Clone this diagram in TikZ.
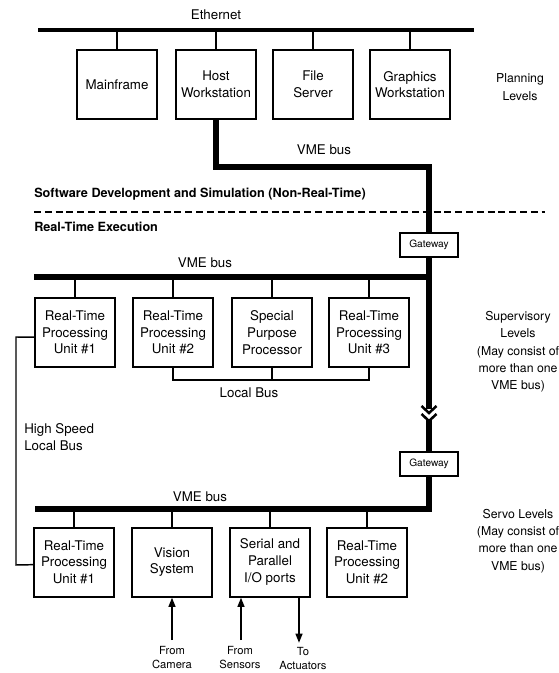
\documentclass[tikz,border=0pt]{standalone}
\usepackage{fontspec}
\setmainfont{TeX Gyre Heros}
\usetikzlibrary{arrows.meta}
\begin{document}
\begin{tikzpicture}[x=0.75pt,y=-0.75pt,
  box/.style={draw,line width=1.5pt,minimum width=60pt,minimum height=51.75pt,inner sep=0pt,align=center,font=\fontsize{10}{12.5}\selectfont},
  gw/.style={draw,line width=1.5pt,minimum width=44pt,minimum height=17.5pt,inner sep=0pt,font=\fontsize{7.6}{9}\selectfont},
  lbl/.style={font=\fontsize{10}{12.5}\selectfont,align=center,inner sep=0pt},
  side/.style={font=\fontsize{9.2}{13}\selectfont,align=center,inner sep=0pt},
  small/.style={font=\fontsize{8.4}{10.5}\selectfont,align=center,inner sep=0pt},
  head/.style={font=\fontsize{9.5}{12}\selectfont\bfseries,anchor=west,inner sep=0pt},
  ether/.style={line width=2.8pt},
  vme/.style={line width=3.8pt,line join=miter},
  drop/.style={line width=1.8pt},
  thinbus/.style={line width=1.1pt},
  chev/.style={line width=1.9pt,line join=miter},
  arr/.style={line width=1.6pt,-{Triangle[length=7pt,width=5pt]}},
]
\useasboundingbox (0,0) rectangle (559,673);

% ---------------- Planning level ----------------
\node[box] (mf)  at (117,84.5) {Mainframe};
\node[box] (hw)  at (216,84.5) {Host\\Workstation};
\node[box] (fs)  at (313,84.5) {File\\Server};
\node[box] (gws) at (410,84.5) {Graphics\\Workstation};
\coordinate (eL) at (38,30);
\coordinate (eR) at (474,30);
\draw[ether] (eL) -- (eR);
\node[lbl] (eth) at (216,15) {Ethernet};
\foreach \n in {mf,hw,fs,gws} \draw[drop] (\n.north) -- (\n.north |- eL);
\node[side] (plan) at (520,87) {Planning\\Levels};

% ---------------- VME bus to gateway 1 ----------------
\coordinate (c1) at (216,167);
\coordinate (c2) at (429,167);
\node[gw] (g1) at (429,245) {Gateway};
\draw[vme] (hw.south) -- (c1) -- (c2) -- (g1.north);
\node[lbl] (vme1) at (324,150) {VME bus};

\node[head] (sw) at (34,194) {Software Development and Simulation (Non-Real-Time)};
\coordinate (dL) at (34,212);
\coordinate (dR) at (545,212);
\draw[line width=0.9pt,dash pattern=on 5.3pt off 2.8pt] (dL) -- (dR);
\node[head] (rte) at (34,227) {Real-Time Execution};

% ---------------- Supervisory level ----------------
\coordinate (b2L) at (34,277);
\coordinate (b2R) at (429,277);
\draw[vme] (g1.south) -- (b2R);
\draw[vme] (b2L) -- (b2R);
\node[lbl] (vme2) at (205,263) {VME bus};

\node[box] (r2a) at (75,332.5)  {Real-Time\\Processing\\Unit \#1};
\node[box] (r2b) at (173,332.5) {Real-Time\\Processing\\Unit \#2};
\node[box] (spp) at (272,332.5) {Special\\Purpose\\Processor};
\node[box] (r2d) at (369,332.5) {Real-Time\\Processing\\Unit \#3};
\foreach \n in {r2a,r2b,spp,r2d} \draw[drop] (\n.north) -- (\n.north |- b2L);

\coordinate (lbY) at (0,380);
\draw[thinbus] (r2b.south) -- (r2b.south |- lbY) -- (r2d.south |- lbY) -- (r2d.south);
\draw[thinbus] (spp.south) -- (spp.south |- lbY);
\node[lbl] (lbus) at (249,393) {Local Bus};

\node[side] (sup) at (518,352) {Supervisory\\Levels\\(May consist of\\more than one\\VME bus)};

% break symbol
\coordinate (k1) at (429,413);
\coordinate (k2) at (429,421);
\draw[vme] (b2R) -- ([yshift=3pt]k1);
\draw[chev] ([shift={(-7.5,-7)}]k1) -- (k1) -- ([shift={(7.5,-7)}]k1);
\draw[chev] ([shift={(-7.5,-7)}]k2) -- (k2) -- ([shift={(7.5,-7)}]k2);

\node[gw] (g2) at (429,464) {Gateway};
\draw[vme] ([yshift=1pt]k2) -- (g2.north);

% ---------------- Servo level ----------------
\coordinate (b3R) at (429,509);
\coordinate (b3L) at (35,509);
\draw[vme] (g2.south) -- (b3R) -- (b3L);
\node[lbl] (vme3) at (200,497) {VME bus};

\node[box] (r3a) at (74,562)  {Real-Time\\Processing\\Unit \#1};
\node[box] (vis) at (172,562) {Vision\\System};
\node[box] (sio) at (270,562) {Serial and\\Parallel\\I/O ports};
\node[box] (r3d) at (367,562) {Real-Time\\Processing\\Unit \#2};
\foreach \n in {r3a,vis,sio,r3d} \draw[drop] (\n.north) -- (\n.north |- b3L);

\node[side] (servo) at (518,541) {Servo Levels\\(May consist of\\more than one\\VME bus)};

% high speed local bus
\coordinate (hs1) at (16,337);
\coordinate (hs2) at (16,565);
\draw[thinbus] ([yshift=-3.5pt]r2a.west) -- (hs1) -- (hs2) -- ([yshift=-2pt]r3a.west);
\node[lbl,anchor=west,align=left] (hsl) at (24,437) {High Speed\\Local Bus};

% I/O arrows
\coordinate (cam) at (172,640);
\coordinate (sen) at (241,640);
\coordinate (act) at (299,643);
\draw[arr] (cam) -- (vis.south);
\draw[arr] (sen) -- (sen |- sio.south);
\draw[arr] (act |- sio.south) -- (act);
\node[small] (lcam) at (172,658) {From\\Camera};
\node[small] (lsen) at (240,658) {From\\Sensors};
\node[small] (lact) at (303,658) {To\\Actuators};
\end{tikzpicture}
\end{document}
